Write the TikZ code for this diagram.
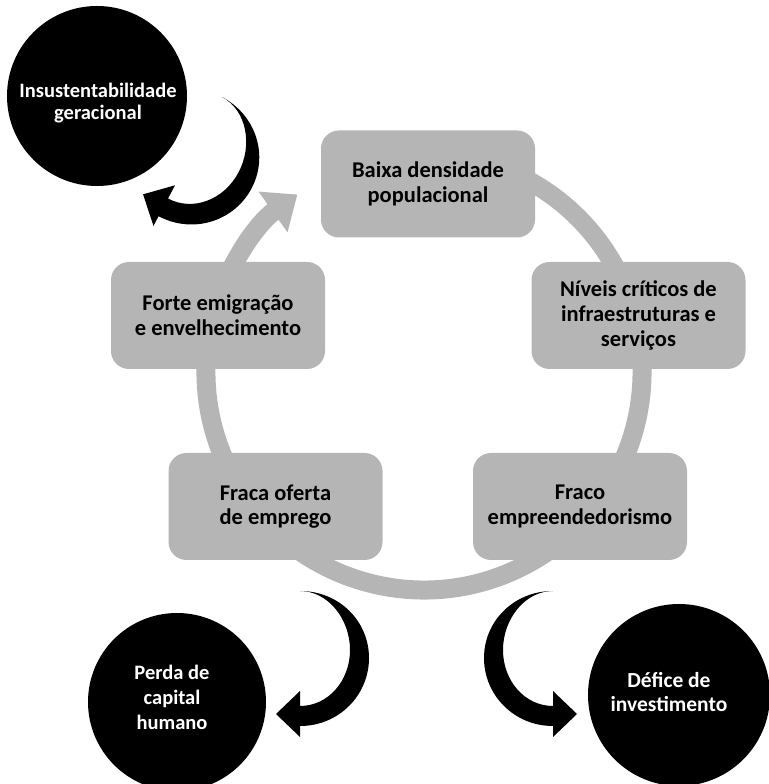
\documentclass[tikz,border=0pt]{standalone}
\usepackage{fontspec}
\setmainfont{Carlito}
\usetikzlibrary{arrows.meta}
\definecolor{ringgray}{RGB}{181,181,181}
\begin{document}
\begin{tikzpicture}[x=1pt,y=1pt,
  boxtxt/.style={font=\bfseries\fontsize{22.5}{24.7}\selectfont},
  circtxt/.style={font=\bfseries\fontsize{20.5}{24}\selectfont, text=white, align=center},
  box/.style={boxtxt, fill=ringgray, rounded corners=18pt, minimum width=214pt, minimum height=107pt, align=center, inner sep=0pt},
  bubble/.style={circle, fill=black, inner sep=0pt},
  ring/.style={draw=ringgray, line width=19pt},
  crescent/.pic={\fill[black] (0,0) .. controls (39,0) and (69,30) .. (69,67)
      .. controls (69,104) and (39,135) .. (0,135) -- (0,146) -- (-24,123) -- (0,100) -- (0,115)
      .. controls (28,115) and (50,90) .. (50,59) .. controls (50,28) and (28,0) .. (0,0) -- cycle;}
]
\useasboundingbox (0,0) rectangle (768,784);
\coordinate (ringc) at (424,412);
\draw[ring, -{Triangle[length=30pt,width=48pt]}] ([shift={(75:218)}]ringc) arc[start angle=75, end angle=-234.5, radius=218];

\node[box] (baixa) at (428,600) {Baixa densidade\\populacional};
\node[box] (niveis) at (638.5,468.5) {Níveis críticos de\\infraestruturas e\\serviços};
\node[box] (fraco) at (580,277.5) {Fraco\\empreendedorismo};
\node[box] (fraca) at (275.5,277.5) {Fraca oferta\\de emprego};
\node[box] (forte) at (218,468.5) {Forte emigração\\e envelhecimento};

\node[bubble, minimum size=180pt] (insus) at (97,688) {};
\node[circtxt, font=\bfseries\fontsize{20.5}{22.5}\selectfont] (insustxt) at ([xshift=1pt,yshift=-7pt]insus.center) {Insustentabilidade\\geracional};
\node[bubble, minimum size=178pt] (perda) at (177,82) {};
\node[circtxt, font=\bfseries\fontsize{20.5}{25}\selectfont] (perdatxt) at ([xshift=-5pt,yshift=5pt]perda.center) {Perda de\\capital\\humano};
\node[bubble, minimum size=182pt] (defice) at (679,89) {};
\node[circtxt, font=\bfseries\fontsize{21.5}{24.5}\selectfont] (deficetxt) at ([xshift=-10pt,yshift=3pt]defice.center) {Défice de\\investimento};

\pic[rotate=-28, yscale=-1] at (222,687) {crescent};
\pic[yscale=-1] at (300,193) {crescent};
\pic[xscale=-1, yscale=-1] at (553,193) {crescent};
\end{tikzpicture}
\end{document}
